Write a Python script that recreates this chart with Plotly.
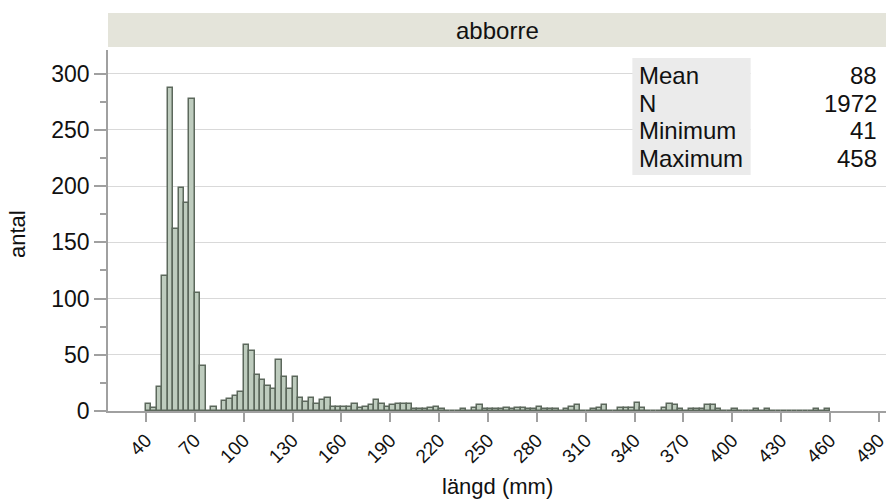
import plotly.graph_objects as go

# ---- data ----
BIN_START = 40.0
BIN_WIDTH = 10.0 / 3.0
counts = [
    6, 3, 21, 120, 287, 162, 198, 185, 277, 105,      # 40-73
    40, 0, 4, 0, 9, 11, 13, 17, 59, 53,               # 73-106
    32, 28, 22, 20, 45, 30, 20, 30, 12, 8,            # 106-140
    12, 6, 10, 12, 4, 4, 4, 4, 6, 3,                  # 140-173
    4, 5, 10, 6, 4, 5, 6, 6, 6, 2,                    # 173-206
    2, 2, 3, 4, 2, 0, 0, 0, 2, 0,                     # 206-240
    3, 5, 2, 2, 2, 2, 3, 2, 3, 3,                     # 240-273
    2, 2, 4, 2, 2, 2, 0, 2, 4, 5,                     # 273-306
    0, 0, 2, 3, 5, 0, 0, 3, 3, 3,                     # 306-340
    7, 3, 0, 0, 0, 3, 6, 5, 2, 0,                     # 340-373
    2, 2, 2, 5, 5, 2, 0, 0, 2, 0,                     # 373-406
    0, 0, 2, 0, 2, 0, 0, 0, 0, 0,                     # 406-440
    0, 0, 0, 2, 0, 2,                                 # 440-460
]
x_ticks = list(range(40, 491, 30))
y_ticks = list(range(0, 301, 50))
panel_title = "abborre"
x_title = "längd (mm)"
y_title = "antal"
stat_labels = ["Mean", "N", "Minimum", "Maximum"]
stat_values = ["88", "1972", "41", "458"]

centers = [BIN_START + (i + 0.5) * BIN_WIDTH for i in range(len(counts))]

FONT = "Liberation Sans, Arial, Helvetica, sans-serif"
TXT = "#111111"

fig = go.Figure()
fig.add_trace(go.Bar(
    x=centers, y=counts, width=BIN_WIDTH,
    marker=dict(color="rgb(190,204,190)", line=dict(color="rgb(92,104,92)", width=1.5)),
    hoverinfo="skip", showlegend=False,
))

fig.update_layout(
    width=888, height=501,
    margin=dict(l=108, r=0, t=50, b=90, pad=0),
    paper_bgcolor="white", plot_bgcolor="white",
    bargap=0,
    font=dict(family=FONT, color=TXT),
    xaxis=dict(
        range=[16.7, 494.4], tickmode="array", tickvals=x_ticks,
        ticktext=[str(v) for v in x_ticks], tickangle=-45,
        ticks="outside", ticklen=9, tickcolor="#a0a0a0", tickwidth=1.5,
        ticklabeloverflow="allow",
        showgrid=False, zeroline=False, showline=True, linecolor="#a0a0a0", linewidth=1.5,
        tickfont=dict(size=19, family=FONT, color=TXT),
    ),
    yaxis=dict(
        range=[0, 321], tickmode="array", tickvals=y_ticks,
        ticks="outside", ticklen=12, tickcolor="#a0a0a0", tickwidth=1.5,
        minor=dict(dtick=25, tick0=0, ticks="outside", ticklen=6, tickcolor="#a0a0a0", showgrid=False),
        showgrid=True, gridcolor="#d9d9d9", gridwidth=1,
        zeroline=False, showline=True, linecolor="#a0a0a0", linewidth=1.5,
        tickfont=dict(size=23, family=FONT, color=TXT),
    ),
)

# header strip
fig.add_shape(type="rect", xref="paper", yref="paper", x0=0, x1=1,
              y0=1.0083, y1=1.1025, fillcolor="#e4e4da", line=dict(width=0), layer="above")
fig.add_annotation(xref="paper", yref="paper", x=0.5, y=1.055, text=panel_title,
                   showarrow=False, xanchor="center", yanchor="middle",
                   font=dict(size=24, family=FONT, color=TXT))

# stats table
fig.add_shape(type="rect", xref="paper", yref="paper", x0=0.826, x1=1.0,
              y0=0.654, y1=0.978, fillcolor="white", line=dict(width=0), layer="above")
fig.add_shape(type="rect", xref="paper", yref="paper", x0=0.674, x1=0.826,
              y0=0.654, y1=0.978, fillcolor="#ebebeb", line=dict(width=0), layer="above")
row_y = [0.928, 0.852, 0.776, 0.700]
for lab, val, yy in zip(stat_labels, stat_values, row_y):
    fig.add_annotation(xref="paper", yref="paper", x=0.680, y=yy, text=lab,
                       showarrow=False, xanchor="left", yanchor="middle",
                       font=dict(size=24, family=FONT, color=TXT))
    fig.add_annotation(xref="paper", yref="paper", x=0.991, y=yy, text=val,
                       showarrow=False, xanchor="right", yanchor="middle",
                       font=dict(size=24, family=FONT, color=TXT))

# axis titles
fig.add_annotation(xref="paper", yref="paper", x=0.5, y=-0.2105, text=x_title,
                   showarrow=False, xanchor="center", yanchor="middle",
                   font=dict(size=22, family=FONT, color=TXT))
fig.add_annotation(xref="paper", yref="paper", x=-0.117, y=0.49, text=y_title,
                   textangle=-90, showarrow=False, xanchor="center", yanchor="middle",
                   font=dict(size=22, family=FONT, color=TXT))

fig.write_html("out.html")
